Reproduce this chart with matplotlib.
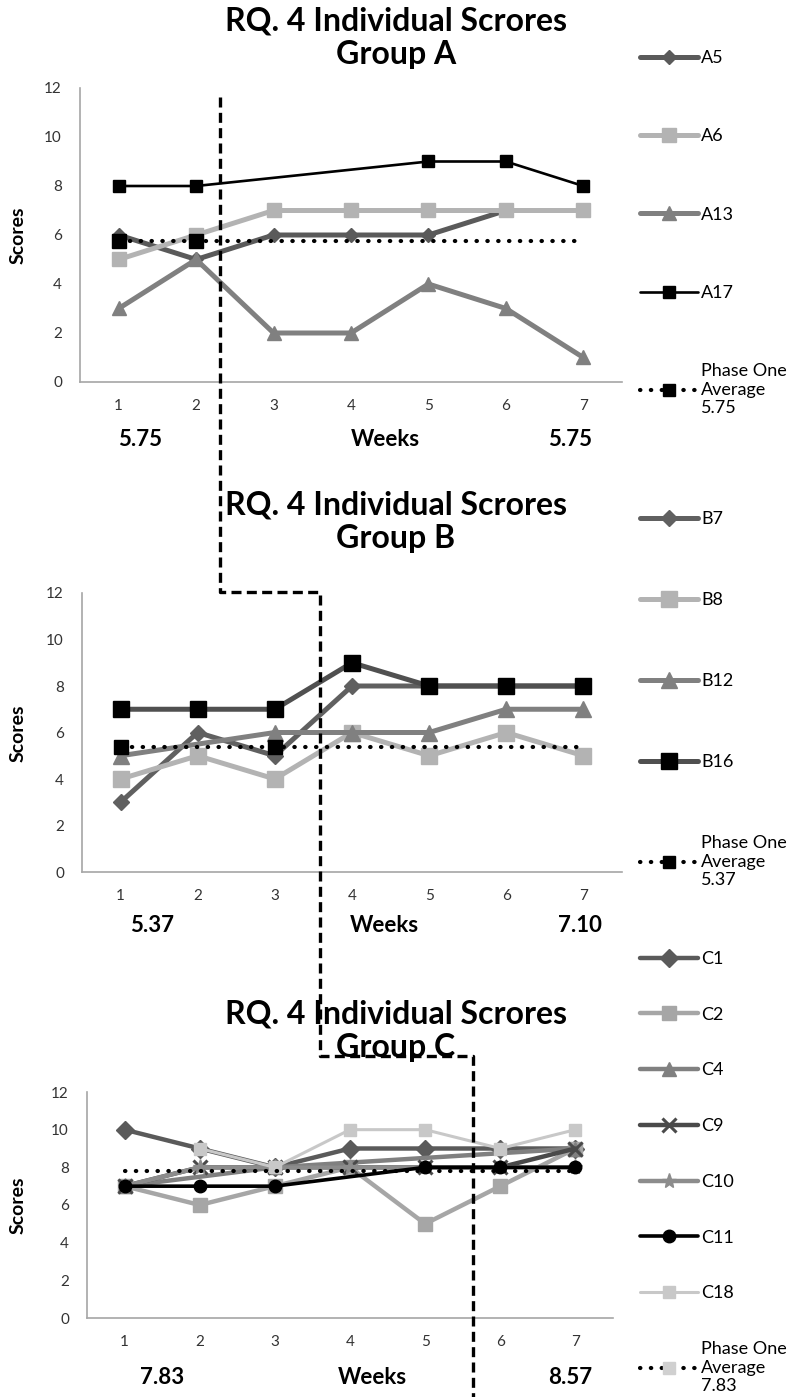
# RQ. 4 individual scores, groups A/B/C, weekly line charts
import numpy as np
import matplotlib.pyplot as plt
from matplotlib.lines import Line2D

plt.rcParams['font.family'] = ['Lato', 'DejaVu Sans']

W, H = 794, 1397

weeks = [1, 2, 3, 4, 5, 6, 7]

# Group A
A5 = [6, 5, 6, 6, 6, 7, 7]
A6 = [5, 6, 7, 7, 7, 7, 7]
A13 = [3, 5, 2, 2, 4, 3, 1]
A17 = [8, 8, None, None, 9, 9, 8]
avg_A = 5.75
end_A = 5.75

# Group B
B7 = [3, 6, 5, 8, 8, 8, 8]
B8 = [4, 5, 4, 6, 5, 6, 5]
B12 = [5, None, 6, 6, 6, 7, 7]
B16 = [7, 7, 7, 9, 8, 8, 8]
avg_B = 5.37
end_B = 7.10

# Group C
C1 = [10, 9, 8, 9, 9, 9, 9]
C2 = [7, 6, 7, 8, 5, 7, 9]
C4 = [7, None, 8, None, None, None, 9]
C9 = [7, 8, 8, 8, 8, 8, 9]
C10 = [7, 8, 8, 8, 8, 8, 8]
C11 = [7, 7, 7, None, 8, 8, 8]
C18 = [None, 9, 8, 10, 10, 9, 10]
avg_C = 7.83
end_C = 8.57


def fx(px):
    return px / W


def fy(py):
    return 1 - py / H


DOTS = dict(color='black', lw=3.0, dashes=(0.1, 2.5), dash_capstyle='round')


def line(ax, vals, label, color, marker, lw, ms, mfc=None, mew=1):
    x = np.array(weeks)
    y = np.array([np.nan if v is None else v for v in vals], dtype=float)
    ok = ~np.isnan(y)
    # excel joins the points across empty weeks
    h, = ax.plot(x[ok], y[ok], color=color, lw=lw, marker=marker, ms=ms,
                 mfc=mfc or color, mec=mfc or color, mew=mew, label=label,
                 solid_joinstyle='round', solid_capstyle='round')
    return h


def average(ax, value, label, mark_at, mcolor):
    ax.plot(weeks, [value] * len(weeks), **DOTS)
    ax.plot([weeks[i] for i in mark_at], [value] * len(mark_at), ls='none',
            marker='s', ms=10, color=mcolor)
    return Line2D([], [], marker='s', ms=9, mfc=mcolor, mec=mcolor,
                  label=label, **DOTS)


def setup(ax):
    ax.set_xlim(0.5, 7.5)
    ax.set_ylim(0, 12)
    ax.set_xticks(weeks)
    ax.set_yticks(range(0, 13, 2))
    ax.tick_params(length=0, labelsize=11, colors='#333333')
    ax.tick_params(axis='x', pad=12)
    ax.tick_params(axis='y', pad=13)
    for s in ['top', 'right']:
        ax.spines[s].set_visible(False)
    for s in ['left', 'bottom']:
        ax.spines[s].set_color('#a6a6a6')
        ax.spines[s].set_linewidth(1.2)


def titles(group, top_px, ymid_px, bottom_px, left, right, x_lab_px):
    fig.text(fx(396), fy(top_px), 'RQ. 4 Individual Scrores\nGroup ' + group,
             ha='center', va='center', fontsize=23, fontweight='bold',
             linespacing=1.2)
    fig.text(fx(18), fy(ymid_px), 'Scores', rotation=90, ha='center',
             va='center', fontsize=14, fontweight='bold')
    for xp, s in zip(x_lab_px, [left, 'Weeks', right]):
        fig.text(fx(xp), fy(bottom_px), s, ha='center', va='center',
                 fontsize=16, fontweight='bold')


def legend(ax, handles, top_px, spacing):
    ax.legend(handles=handles, loc='upper left',
              bbox_to_anchor=(fx(640), fy(top_px)),
              bbox_transform=fig.transFigure, frameon=False, fontsize=13,
              handlelength=3.2, handletextpad=0.2, labelspacing=spacing,
              borderpad=0, borderaxespad=0, numpoints=1)


fig = plt.figure(figsize=(W / 100, H / 100), dpi=100)

dark = '#5a5a5a'
mid = '#808080'
light = '#b3b3b3'

# ---- Group A
axA = fig.add_axes([fx(80), fy(382), fx(622 - 80), (382 - 88) / H])
setup(axA)
hA = [line(axA, A5, 'A5', dark, 'D', 3.6, 7),
      line(axA, A6, 'A6', light, 's', 3.6, 10),
      line(axA, A13, 'A13', mid, '^', 3.6, 10),
      line(axA, A17, 'A17', 'black', 's', 1.9, 9)]
hA.append(average(axA, avg_A, 'Phase One\nAverage\n%.2f' % avg_A, [0, 1],
                  'black'))
titles('A', 38, 235, 440, '%.2f' % avg_A, '%.2f' % end_A, [140, 385, 570])
legend(axA, hA, 50, 3.45)

# ---- Group B
axB = fig.add_axes([fx(82), fy(872), fx(622 - 82), (872 - 593) / H])
setup(axB)
hB = [line(axB, B7, 'B7', '#606060', 'D', 3.6, 8),
      line(axB, B8, 'B8', light, 's', 3.6, 11),
      line(axB, B12, 'B12', mid, '^', 3.6, 11),
      line(axB, B16, 'B16', '#505050', 's', 3.6, 11, mfc='black')]
hB.append(average(axB, avg_B, 'Phase One\nAverage\n%.2f' % avg_B, [0, 2],
                  'black'))
titles('B', 522, 733, 925, '%.2f' % avg_B, '%.2f' % end_B, [152, 384, 580])
legend(axB, hB, 511, 3.6)

# ---- Group C
axC = fig.add_axes([fx(87), fy(1318), fx(613 - 87), (1318 - 1092) / H])
setup(axC)
hC = [line(axC, C1, 'C1', dark, 'D', 3.2, 9),
      line(axC, C2, 'C2', '#a6a6a6', 's', 3.2, 10),
      line(axC, C4, 'C4', mid, '^', 3.2, 10),
      line(axC, C9, 'C9', '#4a4a4a', 'x', 3.2, 10, mew=2.2),
      line(axC, C10, 'C10', '#8c8c8c', '*', 3.2, 11),
      line(axC, C11, 'C11', 'black', 'o', 2.6, 9),
      line(axC, C18, 'C18', '#c8c8c8', 's', 2.2, 9)]
hC.append(average(axC, avg_C, 'Phase One\nAverage\n%.2f' % avg_C, [],
                  '#d0d0d0'))
titles('C', 1031, 1205, 1377, '%.2f' % avg_C, '%.2f' % end_C, [162, 372, 570])
legend(axC, hC, 951, 2.2)

# dashed phase-change connector across the three panels
px = [220, 220, 320, 320, 473, 473]
py = [97, 592, 592, 1056, 1056, 1397]
fig.add_artist(Line2D([fx(p) for p in px], [fy(p) for p in py],
                      transform=fig.transFigure, color='black', lw=2.4,
                      ls=(0, (3, 1.6))))

fig.savefig('out.png', dpi=100)
